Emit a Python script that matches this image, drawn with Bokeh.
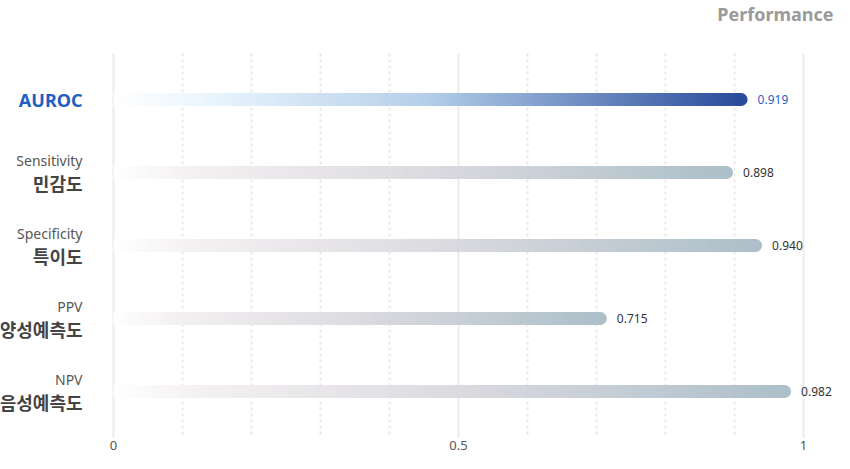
import numpy as np
from bokeh.plotting import figure
from bokeh.models import Range1d, ColumnDataSource
from bokeh.core.properties import value
from bokeh.embed import file_html
from bokeh.resources import INLINE

# ---- data ----
metrics_en = ["AUROC", "Sensitivity", "Specificity", "PPV", "NPV"]
metrics_ko = ["", "민감도", "특이도", "양성예측도", "음성예측도"]
scores = [0.919, 0.898, 0.940, 0.715, 0.982]
score_labels = ["0.919", "0.898", "0.940", "0.715", "0.982"]
x_ticks = [0, 0.5, 1]
x_tick_labels = ["0", "0.5", "1"]
minor_ticks = [0.1, 0.2, 0.3, 0.4, 0.6, 0.7, 0.8, 0.9]
title = "Performance"

# ---- layout / style constants ----
W, H = 834, 453
PX_PER_UNIT = 690.0          # pixels per 1.0 on x
PX_PER_ROW = 73.0            # pixels between bars
X0_PX = 113.0                # figure px of x = 0
Y0_PX = 99.0                 # figure px of first bar
BAR_H = 13
R = (BAR_H / 2.0) / PX_PER_UNIT

highlight_stops = [(0.0, "#ffffff"), (0.15, "#eaf5fd"), (0.5, "#b4cfe9"), (1.0, "#2a4c9b")]
gray_stops = [(0.0, "#ffffff"), (0.12, "#f4f1f2"), (0.5, "#dcdbe0"), (1.0, "#adbfc9")]
BLUE = "#1f5fc4"

LAT = value("Noto Sans")
KOR = value("Noto Sans CJK KR")


def hex2rgb(h):
    h = h.lstrip("#")
    return np.array([int(h[i:i + 2], 16) for i in (0, 2, 4)], dtype=float)


def grad(stops, t):
    pos = np.array([s[0] for s in stops])
    cols = np.array([hex2rgb(s[1]) for s in stops])
    out = []
    for tt in t:
        rgb = [np.interp(tt, pos, cols[:, k]) for k in range(3)]
        out.append("#%02x%02x%02x" % tuple(int(round(c)) for c in rgb))
    return out


x_start = -X0_PX / PX_PER_UNIT
x_end = (W - X0_PX) / PX_PER_UNIT
y_top = -Y0_PX / PX_PER_ROW
y_bot = (H - Y0_PX) / PX_PER_ROW

p = figure(width=W, height=H, x_range=Range1d(x_start, x_end),
           y_range=Range1d(y_bot, y_top), output_backend="svg",
           toolbar_location=None, min_border=0, x_axis_type=None,
           y_axis_type=None, outline_line_color=None)
p.grid.visible = False
p.background_fill_color = "white"
p.border_fill_color = "white"

n = len(scores)
idx = list(range(n))
g_top = -46 / PX_PER_ROW
g_bot = (n - 1) + 46 / PX_PER_ROW

# grid lines
p.segment(x0=minor_ticks, x1=minor_ticks, y0=[g_top] * len(minor_ticks),
          y1=[g_bot] * len(minor_ticks), line_color="#e9e9e9", line_width=2,
          line_dash="3 3")
p.segment(x0=x_ticks, x1=x_ticks, y0=[g_top] * len(x_ticks),
          y1=[g_bot] * len(x_ticks), line_color="#ebebeb", line_width=2)

# gradient bars
N = 140
for i, v in enumerate(scores):
    stops = highlight_stops if i == 0 else gray_stops
    L = v - R
    t = np.linspace(0, 1, N + 1)
    x0 = t[:-1] * L
    x1 = t[1:] * L
    seg = L / N
    x1_ext = np.minimum(x1 + seg * 0.6, L)
    cols = grad(stops, (t[:-1] + t[1:]) / 2)
    src = ColumnDataSource(dict(x0=x0, x1=x1_ext, y=[i] * N, c=cols))
    p.segment(x0="x0", x1="x1", y0="y", y1="y", line_color="c",
              line_width=BAR_H, line_cap="butt", source=src)
    p.scatter(x=[L], y=[i], size=BAR_H, marker="circle",
              fill_color=stops[-1][1], line_color=None)

# value labels
val_colors = [BLUE] + ["#333333"] * (n - 1)
p.text(x=scores, y=idx, text=score_labels, text_color=val_colors,
       text_font=LAT, text_font_size="12px", text_align="left",
       text_baseline="middle", x_offset=10)

# left labels
lab_x = [-31 / PX_PER_UNIT] * n
p.text(x=lab_x[:1], y=idx[:1], text=metrics_en[:1], text_color=BLUE,
       text_font=LAT, text_font_size="18px", text_font_style="bold",
       text_align="right", text_baseline="middle")
p.text(x=lab_x[1:], y=idx[1:], text=metrics_en[1:], text_color="#555555",
       text_font=LAT, text_font_size="14px", text_align="right",
       text_baseline="middle", y_offset=-12)
p.text(x=lab_x[1:], y=idx[1:], text=metrics_ko[1:], text_color="#444444",
       text_font=KOR, text_font_size="18px", text_font_style="bold",
       text_align="right", text_baseline="middle", y_offset=10)

# x tick labels
p.text(x=x_ticks, y=[g_bot] * len(x_ticks), text=x_tick_labels,
       text_color="#555555", text_font=LAT, text_font_size="13px",
       text_align="center", text_baseline="middle", y_offset=8)

# title
p.text(x=[x_end], y=[y_top], text=[title], text_color="#9a9a9a",
       text_font=LAT, text_font_size="18px", text_font_style="bold",
       text_align="right", text_baseline="middle", y_offset=13, x_offset=-1)

open("out.html", "w").write(file_html(p, INLINE))
